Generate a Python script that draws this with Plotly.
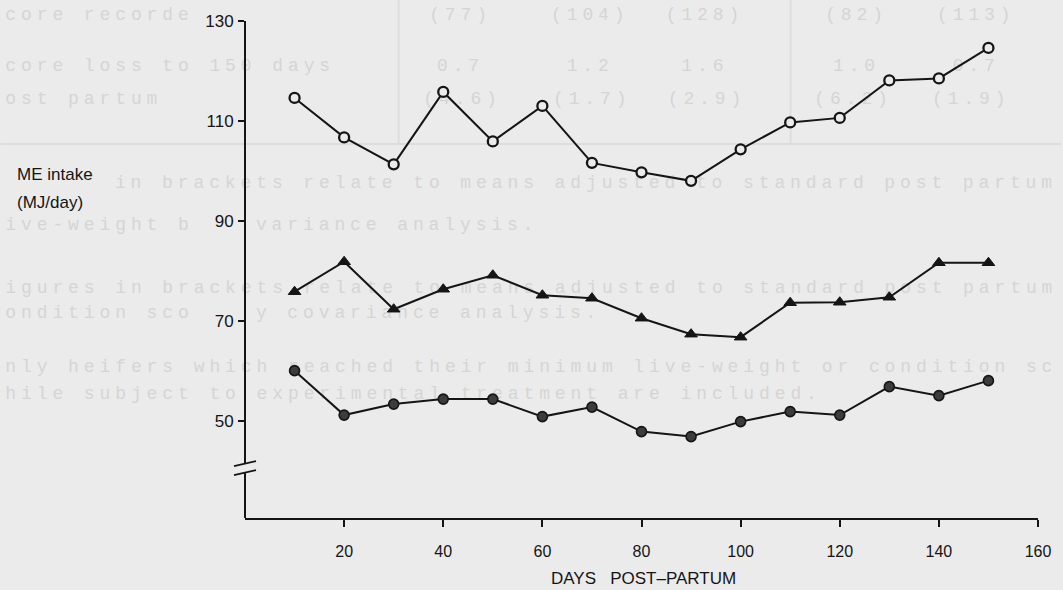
import plotly.graph_objects as go

# Days post-partum at which intake was recorded
days = [10, 20, 30, 40, 50, 60, 70, 80, 90, 100, 110, 120, 130, 140, 150]

# ME intake (MJ/day) for the three groups
intake_open = [114.6, 106.7, 101.3, 115.8, 105.9, 113.0, 101.6, 99.7, 98.0,
               104.3, 109.7, 110.6, 118.1, 118.5, 124.6]
intake_triangle = [75.8, 81.8, 72.3, 76.3, 79.1, 75.1, 74.5, 70.5, 67.3,
                   66.7, 73.6, 73.7, 74.7, 81.6, 81.6]
intake_filled = [60.0, 51.1, 53.3, 54.3, 54.3, 50.8, 52.7, 47.8, 46.8,
                 49.8, 51.8, 51.1, 56.8, 55.0, 58.0]

x_ticks = [20, 40, 60, 80, 100, 120, 140, 160]
y_ticks = [50, 70, 90, 110, 130]

# Faint typewritten lines showing through from the reverse of the page:
# (text, left edge in px, row centre in px)
through_lines = [
    ("score recorded", -14, 12),
    ("score loss to 150 days", -14, 63),
    ("post partum", -14, 96),
    ("Figures in brackets relate to means adjusted to standard post partum", -14, 180),
    ("live-weight by covariance analysis.", -14, 222),
    ("Figures in brackets relate to means adjusted to standard post partum", -14, 285),
    ("condition score by covariance analysis.", -14, 310),
    ("Only heifers which reached their minimum live-weight or condition score", -14, 364),
    ("while subject to experimental treatment are included.", -14, 391),
]
# Table entries of the same page: (text, column centre px, row centre px)
through_cells = [
    ("(77)", 458, 12), ("(104)", 588, 12), ("(128)", 703, 12),
    ("(82)", 855, 12), ("(113)", 975, 12),
    ("0.7", 458, 63), ("1.2", 588, 63), ("1.6", 703, 63),
    ("1.0", 855, 63), ("0.7", 975, 63),
    ("(4.6)", 460, 96), ("(1.7)", 590, 96), ("(2.9)", 705, 96),
    ("(6.2)", 852, 96), ("(1.9)", 970, 96),
]

PAPER = "#ebebeb"
INK = "#151515"
FAINT = "#d5d5d5"
W, H = 1063, 590
M = dict(l=245, r=23, t=21, b=72)
Y_RANGE = [30.5, 130]
BREAK_LOW, BREAK_HIGH = 39.6, 41.4
PITCH = 15.7          # typewriter character pitch in px
GLYPH = 11            # visible glyph width in px
MONO_SIZE = 18

plot_h = H - M["t"] - M["b"]
plot_w = W - M["l"] - M["r"]


def paper_y(px):
    return (H - M["b"] - px) / plot_h


def paper_x(px):
    return (px - M["l"]) / plot_w


# Areas kept clear of the faint lines: y tick labels and the axis label
keep_clear = [(198, 242, py, 11) for py in (21, 121, 221, 320, 420)]
keep_clear += [(10, 100, 174, 10), (10, 100, 203, 10)]


def visible_runs(text, x0, y):
    runs, cur = [], None
    for i, ch in enumerate(text):
        left = x0 + i * PITCH
        ok = left >= 0 and left + GLYPH <= W
        for bx0, bx1, by, bh in keep_clear:
            if abs(y - by) < bh + 9 and left < bx1 and left + GLYPH > bx0:
                ok = False
        if ok:
            if cur is None:
                cur = [left, ""]
            cur[1] += ch
        elif cur is not None:
            runs.append(cur)
            cur = None
    if cur is not None:
        runs.append(cur)
    out = []
    for left, s in runs:
        stripped = s.lstrip()
        left += (len(s) - len(stripped)) * PITCH
        stripped = stripped.rstrip()
        if stripped:
            out.append((stripped, left))
    return out


fig = go.Figure()

faint_items = []
for text, x0, y in through_lines:
    faint_items += [(s, left, y) for s, left in visible_runs(text, x0, y)]
for text, xc, y in through_cells:
    faint_items += [(s, left, y)
                    for s, left in visible_runs(text, xc - len(text) * PITCH / 2, y)]

for s, left, y in faint_items:
    fig.add_shape(
        type="rect", xref="paper", yref="paper", layer="below",
        x0=paper_x(left), x1=paper_x(left + 1),
        y0=paper_y(y + 1), y1=paper_y(y - 1),
        line=dict(width=0), fillcolor="rgba(0,0,0,0)",
        label=dict(text='<span style="letter-spacing:%.1fpx">%s</span>'
                   % (PITCH - 0.6 * MONO_SIZE, s),
                   textposition="middle left", padding=0,
                   font=dict(family="Liberation Mono, Courier New, monospace",
                             size=MONO_SIZE, color=FAINT)))

# Ruling of the table on the same page
rule = dict(color="#dddddd", width=2)
fig.add_shape(type="line", xref="paper", yref="paper", layer="below",
              x0=paper_x(0), x1=paper_x(W), y0=paper_y(144), y1=paper_y(144),
              line=rule)
for vx in (399, 792):
    fig.add_shape(type="line", xref="paper", yref="paper", layer="below",
                  x0=paper_x(vx), x1=paper_x(vx), y0=paper_y(0),
                  y1=paper_y(144), line=rule)

line_style = dict(color=INK, width=2)

fig.add_trace(go.Scatter(
    x=days, y=intake_open, mode="lines+markers", line=line_style,
    marker=dict(symbol="circle", size=10, color=PAPER,
                line=dict(color=INK, width=2.3)),
    cliponaxis=False, showlegend=False))

fig.add_trace(go.Scatter(
    x=days, y=intake_triangle, mode="lines+markers", line=line_style,
    marker=dict(symbol="triangle-up", size=11, color=INK,
                line=dict(color=INK, width=1)),
    cliponaxis=False, showlegend=False))

fig.add_trace(go.Scatter(
    x=days, y=intake_filled, mode="lines+markers", line=line_style,
    marker=dict(symbol="circle", size=10, color="#3c3c3c",
                line=dict(color=INK, width=1.6)),
    cliponaxis=False, showlegend=False))

# Vertical axis drawn in two pieces with a break near the bottom
axis_line = dict(color=INK, width=2)
fig.add_shape(type="line", xref="paper", yref="y", x0=0, x1=0,
              y0=Y_RANGE[0], y1=BREAK_LOW, line=axis_line)
fig.add_shape(type="line", xref="paper", yref="y", x0=0, x1=0,
              y0=BREAK_HIGH, y1=Y_RANGE[1], line=axis_line)
for yb in (BREAK_LOW, BREAK_HIGH):
    fig.add_shape(type="line", xref="paper", yref="y",
                  xsizemode="pixel", xanchor=0, x0=-11, x1=11,
                  y0=yb - 0.5, y1=yb + 0.5,
                  line=dict(color=INK, width=1.8))

fig.update_xaxes(
    range=[0, 160], tickvals=x_ticks, ticktext=[str(v) for v in x_ticks],
    showgrid=False, zeroline=False,
    showline=True, linecolor=INK, linewidth=2,
    ticks="outside", ticklen=7, tickwidth=1.6, tickcolor=INK,
    ticklabelstandoff=11,
    tickfont=dict(family="Liberation Sans Narrow, Liberation Sans, Arial",
                  size=16, color=INK))

fig.update_yaxes(
    range=Y_RANGE, tickvals=y_ticks, ticktext=[str(v) for v in y_ticks],
    showgrid=False, zeroline=False, showline=False,
    ticks="outside", ticklen=6, tickwidth=2, tickcolor=INK,
    ticklabelstandoff=1,
    tickfont=dict(family="Liberation Sans, Arial", size=17, color=INK))

fig.add_annotation(
    text="DAYS&nbsp;&nbsp;&nbsp;POST\u2013PARTUM", xref="paper", yref="paper",
    x=paper_x(645), y=paper_y(578), xanchor="center", yanchor="middle",
    showarrow=False,
    font=dict(family="Liberation Sans Narrow, Liberation Sans, Arial",
              size=17, color=INK))

for label, py in (("ME intake", 174), ("(MJ/day)", 203)):
    fig.add_annotation(
        text=label, xref="paper", yref="paper",
        x=paper_x(14), y=paper_y(py), xanchor="left", yanchor="middle",
        showarrow=False,
        font=dict(family="Liberation Sans, Arial", size=17, color=INK))

fig.update_layout(
    width=W, height=H, margin=M,
    paper_bgcolor=PAPER, plot_bgcolor="rgba(0,0,0,0)")

fig.write_html("out.html")
